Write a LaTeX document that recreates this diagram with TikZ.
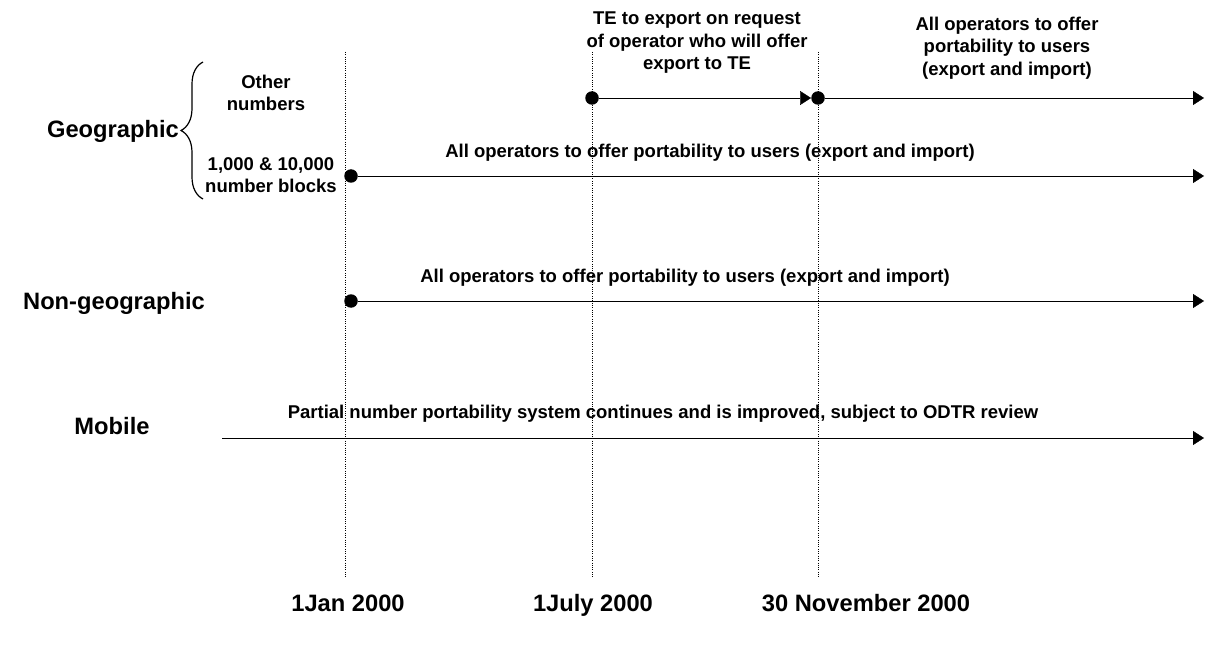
\documentclass[tikz,border=0pt]{standalone}
\usepackage{fontspec}
\setmainfont{Liberation Sans}
\usetikzlibrary{arrows.meta,positioning,decorations.pathreplacing}
\tikzset{line width=2pt,
  every node/.style={font=\fontsize{18.5}{22.5}\selectfont\bfseries,inner sep=0pt,align=center},
  big/.style={font=\fontsize{23.7}{28}\selectfont\bfseries},
  guide/.style={draw=black,line width=.9pt,dash pattern=on .9pt off 1.4pt},
  period/.style={-{Triangle[length=11pt,width=14pt]}},
  dot/.style={circle,fill=black,minimum size=13.5pt},
  bracket/.style={decorate,decoration={brace,amplitude=22pt},line width=1.2pt}}

\begin{document}
\begin{tikzpicture}[x=1pt,y=-1pt]
\useasboundingbox (0,0) rectangle (1205,655);
\foreach \x/\dx/\t/\n in {345/348/1Jan 2000/jan,592/593/1July 2000/jul,818/866/30 November 2000/nov}{
  \draw[guide] (\x,52)--(\x,578);
  \node[big,anchor=base] (\n) at (\dx,611) {\t};}
\draw[bracket] (203,199)--(203,62);
\node[big,anchor=east] (geo) at (179,131) {Geographic};
\node (oth) at (266,93) {Other\\numbers};
\node (blk) at (271,175) {1,000 \& 10,000\\number blocks};
\node[big] (ngeo) at (114,303) {Non-geographic};
\node[big] (mob) at (112,426) {Mobile};
\node (te) at (697,43) {TE to export on request\\of operator who will offer\\export to TE};
\node (all1) at (1007,48) {All operators to offer\\portability to users\\(export and import)};
\node (all2) at (710,153) {All operators to offer portability to users (export and import)};
\node (all3) at (685,278) {All operators to offer portability to users (export and import)};
\node (part) at (663,414) {Partial number portability system continues and is improved, subject to ODTR review};
\node[dot] (j1) at (592,98) {};
\node[dot] (n1) at (818,98) {};
\node[dot] (g2) at (351,176) {};
\node[dot] (ng) at (351,301) {};
\coordinate (e1) at (1204,98);
\coordinate (e2) at (1204,176);
\coordinate (e3) at (1204,301);
\coordinate (m0) at (222,438);
\coordinate (e4) at (1204,438);
\draw[period] (j1)--(n1);
\draw[period] (n1)--(e1);
\draw[period] (g2)--(e2);
\draw[period] (ng)--(e3);
\draw[period] (m0)--(e4);
\end{tikzpicture}
\end{document}
